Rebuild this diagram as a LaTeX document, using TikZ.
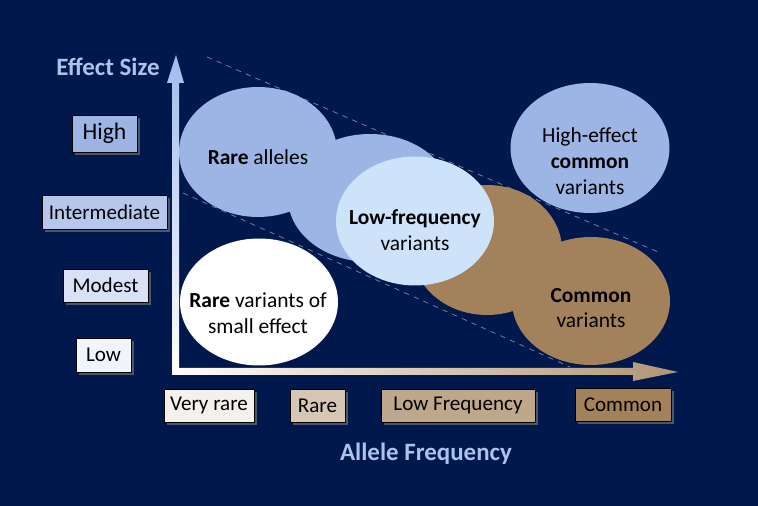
\documentclass[tikz,border=0pt]{standalone}
\usepackage{fontspec}
\setmainfont{Carlito}
\usepackage{tikz}
\usetikzlibrary{shapes.geometric, shadows, positioning}
\definecolor{navy}{RGB}{0,24,76}
\definecolor{blueblob}{RGB}{157,181,229}
\definecolor{paleblob}{RGB}{205,227,250}
\definecolor{brownblob}{RGB}{163,130,91}
\definecolor{headblue}{RGB}{169,197,235}
\definecolor{dashgrey}{RGB}{120,138,176}
\tikzstyle{blob} = [ellipse, inner sep=0pt]
\tikzstyle{blobtext} = [align=center, font=\fontsize{12.2}{14.7}\selectfont, text=black]
\tikzstyle{level} = [rectangle, draw=black, thin, inner sep=0pt, text=black, font=\fontsize{12}{13}\selectfont, drop shadow={opacity=0.6, shadow xshift=1.5pt, shadow yshift=-1.5pt}]
\tikzstyle{heading} = [font=\bfseries\fontsize{14.2}{16}\selectfont, text=headblue]
\tikzstyle{guide} = [dashgrey, dashed, thin]

\begin{document}
\begin{tikzpicture}[x=0.02cm, y=-0.02cm]
	\fill[navy] (0,0) rectangle (758,506);
	\useasboundingbox (0,0) rectangle (758,506);
	
	% Guide lines
	\coordinate (g1a) at (207,57);
	\coordinate (g1b) at (658,252);
	\coordinate (g2a) at (183,193);
	\coordinate (g2b) at (570,367);
	\draw [guide] (g1a) -- (g1b);
	\draw [guide] (g2a) -- (g2b);
	
	% Axes
	\shade[top color=headblue!95!blue, bottom color=white] (172,375) -- (172,83) -- (167,83) -- (176,55) -- (184,83) -- (179,83) -- (179,375) -- cycle;
	\shade[left color=white, right color=brownblob!85!white] (172,368) -- (633,368) -- (633,362) -- (678,372) -- (633,381) -- (633,375) -- (172,375) -- cycle;
	
	% Blobs
	\node (rarealleles) [blob, fill=blueblob, minimum width=3.16cm, minimum height=2.6cm] at (258,152) {};
	\node (rareback) [blob, fill=blueblob, minimum width=3.28cm, minimum height=2.56cm] at (370,198) {};
	\node (commonback) [blob, fill=brownblob, minimum width=3.0cm, minimum height=2.6cm] at (487,250) {};
	\node (common) [blob, fill=brownblob, minimum width=3.16cm, minimum height=2.56cm] at (591,301) {};
	\node (lowfreq) [blob, fill=paleblob, minimum width=3.16cm, minimum height=2.58cm] at (415,221) {};
	\node (higheffect) [blob, fill=blueblob, minimum width=3.18cm, minimum height=2.6cm] at (590,148) {};
	\node (smalleffect) [blob, fill=white, minimum width=3.16cm, minimum height=2.54cm] at (259,302) {};
	
	% Blob texts
	\node (rareallelestext) [blobtext] at (258,157) {\textbf{Rare} alleles};
	\node (commontext) [blobtext] at (591,308) {\textbf{Common}\\variants};
	\node (lowfreqtext) [blobtext] at (415,230) {\textbf{Low-frequency}\\variants};
	\node (higheffecttext) [blobtext] at (590,161) {High-effect\\\textbf{common}\\variants};
	\node (smalleffecttext) [blobtext] at (258,313) {\textbf{Rare} variants of\\small effect};
	
	% Effect size levels
	\node (effect) [heading] at (108,67) {Effect Size};
	\node (high) [level, fill=blueblob, minimum width=1.3cm, minimum height=0.74cm, font=\fontsize{13.5}{15}\selectfont] at (104.5,133.5) {High};
	\node (inter) [level, fill=blueblob!75!white, minimum width=2.5cm, minimum height=0.68cm] at (104.5,212) {Intermediate};
	\node (modest) [level, fill=blueblob!40!white, minimum width=1.7cm, minimum height=0.66cm] at (105.5,285.5) {Modest};
	\node (low) [level, fill=blueblob!15!white, minimum width=1.1cm, minimum height=0.68cm] at (103.5,355) {Low};
	
	% Frequency levels
	\node (veryrare) [level, fill=brownblob!12!white, minimum width=1.8cm, minimum height=0.66cm] at (209,405.5) {Very rare};
	\node (rare) [level, fill=brownblob!45!white, minimum width=1.1cm, minimum height=0.66cm] at (317.5,405.5) {Rare};
	\node (lowfrequency) [level, fill=brownblob!70!white, minimum width=3.08cm, minimum height=0.66cm] at (458,405.5) {Low Frequency};
	\node (commonlvl) [level, fill=brownblob, minimum width=1.92cm, minimum height=0.66cm] at (623,404.5) {Common};
	\node (allele) [heading] at (426,454) {Allele Frequency};
	
\end{tikzpicture}
\end{document}
